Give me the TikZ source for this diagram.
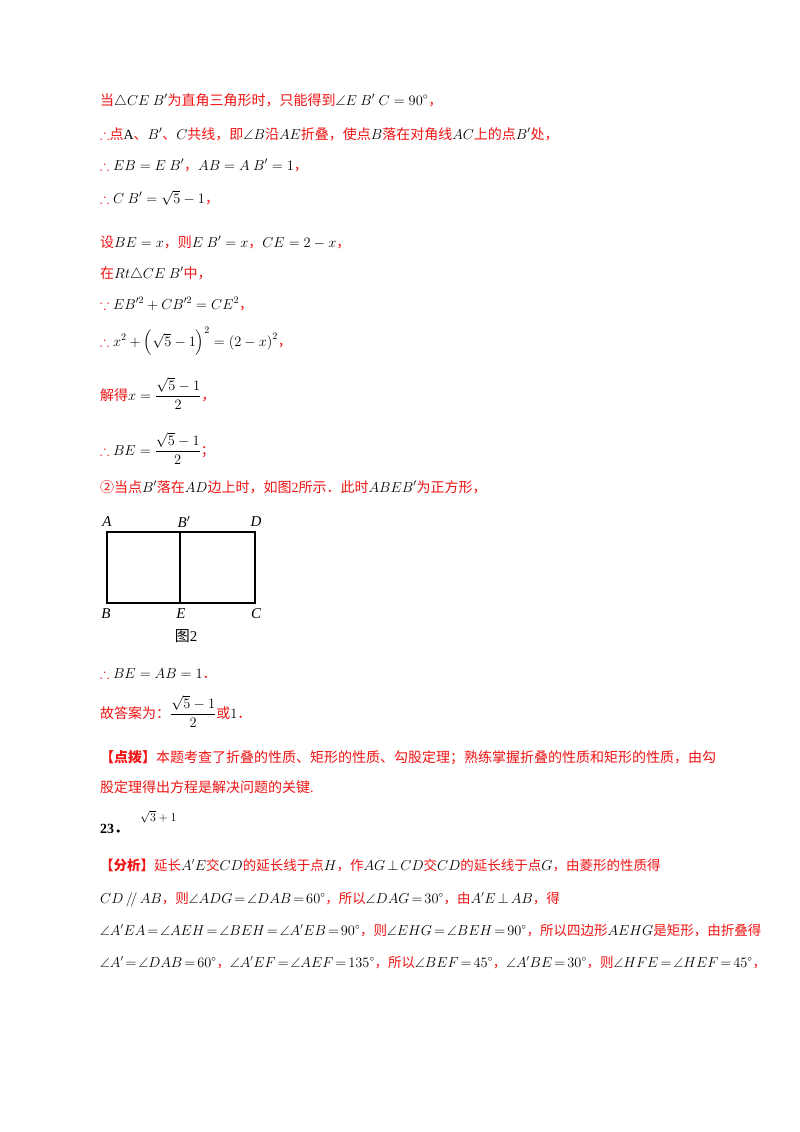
\documentclass[tikz,border=0pt]{standalone}
\usepackage{amsmath,amssymb}
\usepackage{fontspec}
\setmainfont{Liberation Serif}
\newfontfamily\cjk{Noto Sans CJK SC}
\definecolor{tred}{RGB}{240,20,20}
\newcommand\Rz[1]{\textcolor{tred}{\cjk #1}}
\newcommand\Tf{\textcolor{tred}{$\therefore$}}
\newcommand\tightmath{\medmuskip=1.5mu\relax\thickmuskip=2.5mu\relax}
\begin{document}
\begin{tikzpicture}[x=1pt,y=-1pt,
  ln/.style={anchor=base west,inner sep=0pt,font=\fontsize{14}{16}\selectfont},
  lnt/.style={anchor=base west,inner sep=0pt,font=\fontsize{13.5}{16}\selectfont\tightmath},
  lab/.style={inner sep=0pt,font=\fontsize{15}{16}\selectfont\itshape}]
\useasboundingbox (0,0) rectangle (800,1132);
\fill[white] (0,0) rectangle (800,1132);
\node[ln] (l1) at (100,105) {\Rz{当}$\triangle CE\ B'$\Rz{为直角三角形时，只能得到}$\angle E\ B'\ C=90^\circ$\Rz{，}};
\node[ln] (l2) at (100,139) {\Tf\Rz{点}A\Rz{、}$B'$\Rz{、}$C$\Rz{共线，即}$\angle B$\Rz{沿}$AE$\Rz{折叠，使点}$B$\Rz{落在对角线}$AC$\Rz{上的点}$B'$\Rz{处，}};
\node[ln] (l3) at (100,170) {\Tf\ $EB=E\ B'$\Rz{，}$AB=A\ B'=1$\Rz{，}};
\node[ln] (l4) at (100,203) {\Tf\ $C\ B'=\sqrt{5}-1$\Rz{，}};
\node[ln] (l5) at (100,247) {\Rz{设}$BE=x$\Rz{，则}$E\ B'=x$\Rz{，}$CE=2-x$\Rz{，}};
\node[ln] (l6) at (100,278) {\Rz{在}$Rt\triangle CE\ B'$\Rz{中，}};
\node[ln] (l7) at (100,309) {\textcolor{tred}{$\because$} $EB'^2+CB'^2=CE^2$\Rz{，}};
\node[ln] (l8) at (100,346) {\Tf\ $x^2+\left(\sqrt{5}-1\right)^2=\left(2-x\right)^2$\Rz{，}};
\node[ln] (l9) at (100,400) {\Rz{解得}$x=\dfrac{\sqrt{5}-1}{2}$\Rz{，}};
\node[ln] (l10) at (100,455) {\Tf\ $BE=\dfrac{\sqrt{5}-1}{2}$\Rz{；}};
\node[ln] (l11) at (100,492) {\Rz{②当点}$B'$\Rz{落在}$AD$\Rz{边上时，如图}\textcolor{tred}{2}\Rz{所示．此时}$ABEB'$\Rz{为正方形，}};
% figure
\coordinate (A) at (107,532); \coordinate (Bp) at (180,532); \coordinate (D) at (255,532);
\coordinate (B) at (107,603); \coordinate (E) at (180,603); \coordinate (C) at (255,603);
\draw[line width=1.2pt] (A) rectangle (C);
\draw[line width=1.2pt] (Bp) -- (E);
\node[lab] (tA) at (107,522) {A};
\node[lab] (tBp) at (184,522) {B$'$};
\node[lab] (tD) at (256,522) {D};
\node[lab] (tB) at (106,614) {B};
\node[lab] (tE) at (181,614) {E};
\node[lab] (tC) at (256,614) {C};
\node[inner sep=0pt,font=\fontsize{15}{16}\selectfont] (fig) at (186,636) {{\cjk 图}2};
\node[ln] (l12) at (100,678) {\Tf\ $BE=AB=1$\Rz{．}};
\node[ln] (l13) at (100,718) {\Rz{故答案为：}$\dfrac{\sqrt{5}-1}{2}$\Rz{或}$1$\Rz{．}};
\node[ln] (l14) at (100,762) {\Rz{\bfseries 【点拨】}\Rz{本题考查了折叠的性质、矩形的性质、勾股定理；熟练掌握折叠的性质和矩形的性质，由勾}};
\node[ln] (l15) at (100,792) {\Rz{股定理得出方程是解决问题的关键}\textcolor{tred}{.}};
\node[ln] (l16) at (100,833) {\textbf{23}{\cjk\bfseries ．}};
\node[ln,font=\fontsize{12}{14}\selectfont] (l16b) at (140,821) {$\sqrt{3}+1$};
\node[lnt] (l17) at (100,870) {\Rz{\bfseries 【分析】}\Rz{延长}$A'E$\Rz{交}$CD$\Rz{的延长线于点}$H$\Rz{，作}$AG\perp CD$\Rz{交}$CD$\Rz{的延长线于点}$G$\Rz{，由菱形的性质得}};
\node[lnt] (l18) at (100,903) {$CD\,/\!/\,AB$\Rz{，则}$\angle ADG=\angle DAB=60^\circ$\Rz{，所以}$\angle DAG=30^\circ$\Rz{，由}$A'E\perp AB$\Rz{，得}};
\node[lnt] (l19) at (100,935) {$\angle A'EA=\angle AEH=\angle BEH=\angle A'EB=90^\circ$\Rz{，则}$\angle EHG=\angle BEH=90^\circ$\Rz{，所以四边形}$AEHG$\Rz{是矩形，由折叠得}};
\node[lnt] (l20) at (100,967) {$\angle A'=\angle DAB=60^\circ$\Rz{，}$\angle A'EF=\angle AEF=135^\circ$\Rz{，所以}$\angle BEF=45^\circ$\Rz{，}$\angle A'BE=30^\circ$\Rz{，则}$\angle HFE=\angle HEF=45^\circ$\Rz{，}};
\end{tikzpicture}
\end{document}
